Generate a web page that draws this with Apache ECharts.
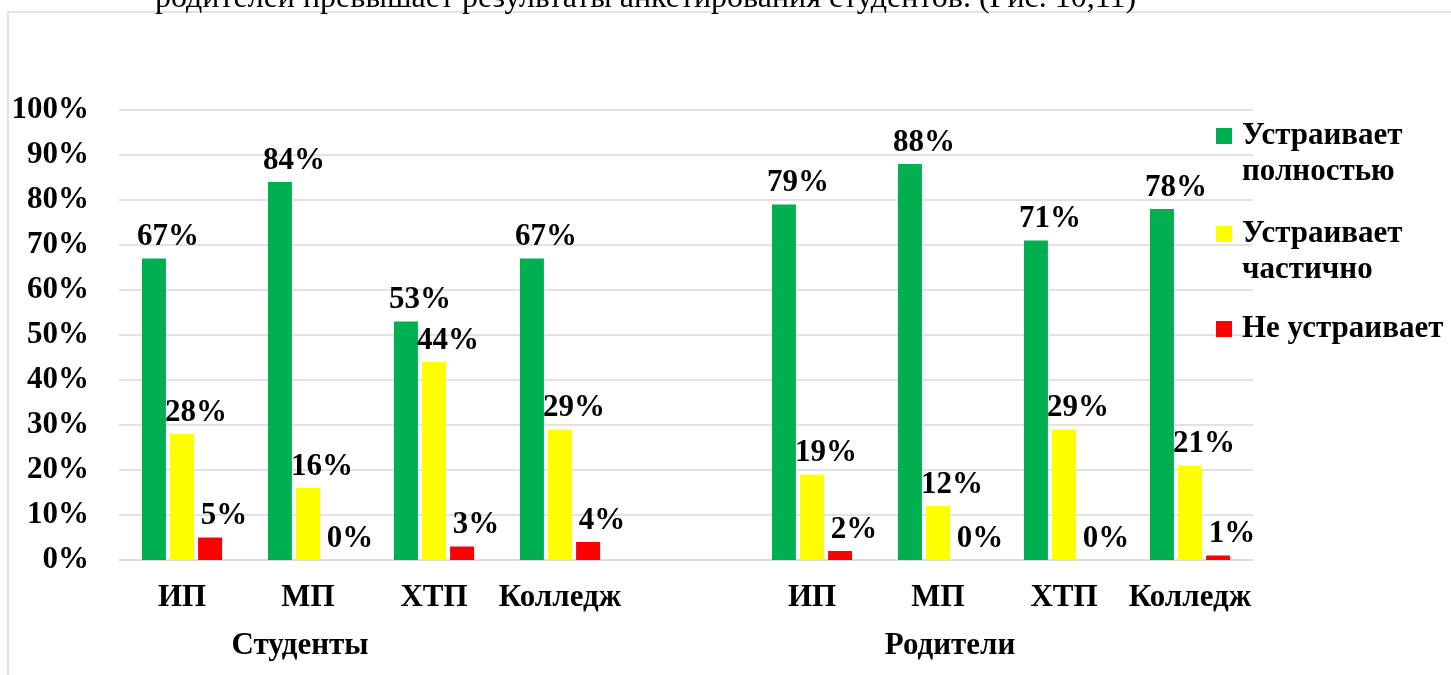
<!DOCTYPE html>
<html>
<head>
<meta charset="utf-8">
<script src="https://cdn.jsdelivr.net/npm/echarts@6/dist/echarts.min.js"></script>
<style>
  html, body { margin: 0; padding: 0; background: #fff; }
  #chart { width: 1451px; height: 675px; }
</style>
</head>
<body>
<div id="chart"></div>
<script>
// категории (пустой слот между группами)
const categories = ["ИП", "МП", "ХТП", "Колледж", "", "ИП", "МП", "ХТП", "Колледж"];
const groupLabels = ["", "Студенты", "", "", "", "", "Родители", "", ""];
const seriesNames = ["Устраивает\nполностью", "Устраивает\nчастично", "Не устраивает"];
const fullValues = [67, 84, 53, 67, null, 79, 88, 71, 78];
const partValues = [28, 16, 44, 29, null, 19, 12, 29, 21];
const noneValues = [5, 0, 3, 4, null, 2, 0, 0, 1];
const colors = ["#00b050", "#ffff00", "#ff0000"];

const font = '"Times New Roman", "Liberation Serif", serif';
const bold = { fontFamily: font, fontWeight: "bold", fontSize: 31, color: "#000" };

const chart = echarts.init(document.getElementById("chart"));

function barSeries(name, data, color) {
  return {
    name: name,
    type: "bar",
    data: data,
    barWidth: 24,
    barGap: "17%",
    itemStyle: { color: color },
    label: {
      show: true,
      position: "top",
      distance: 6,
      offset: [14, 0],
      formatter: "{c}%",
      ...bold,
    },
  };
}

// легенда: три отдельных блока, квадрат напротив первой строки
function legendAt(name, color, top, twoLines) {
  return {
    data: [{ name: name, itemStyle: { color: color } }],
    orient: "vertical",
    left: 1216,
    top: top,
    padding: 0,
    icon: "rect",
    itemWidth: 16,
    itemHeight: 16,
    selectedMode: false,
    // пустая первая строка — чтобы квадрат стоял против первой строки текста
    formatter: twoLines ? (n) => "\n" + n : (n) => n,
    textStyle: { ...bold, lineHeight: 36, padding: [0, 0, 0, 5] },
  };
}

chart.setOption({
  animation: false,
  grid: { left: 119, right: 198, top: 110, bottom: 115 },
  legend: [
    legendAt(seriesNames[0], colors[0], 82, true),
    legendAt(seriesNames[1], colors[1], 180, true),
    legendAt(seriesNames[2], colors[2], 311, false),
  ],
  xAxis: [
    {
      type: "category",
      data: categories,
      axisLine: { show: true, lineStyle: { color: "#d9d9d9", width: 1.5 } },
      axisTick: { show: false },
      axisLabel: { interval: 0, margin: 22, ...bold },
    },
    {
      type: "category",
      data: groupLabels.map((g, i) => ({
        value: g,
        textStyle: { padding: i === 1 ? [0, 16, 0, 0] : i === 6 ? [0, 0, 0, 24] : 0 },
      })),
      position: "bottom",
      axisLine: { show: false },
      axisTick: { show: false },
      axisLabel: { interval: 0, margin: 70, ...bold },
    },
  ],
  yAxis: {
    type: "value",
    min: 0,
    max: 100,
    interval: 10,
    axisLine: { show: false },
    axisTick: { show: false },
    splitLine: { lineStyle: { color: "#d9d9d9", width: 1.5 } },
    axisLabel: { formatter: "{value}%", margin: 30, ...bold },
  },
  series: [
    barSeries(seriesNames[0], fullValues, colors[0]),
    barSeries(seriesNames[1], partValues, colors[1]),
    barSeries(seriesNames[2], noneValues, colors[2]),
  ],
  graphic: [
    {
      type: "rect",
      shape: { x: 8, y: 12, width: 1500, height: 700 },
      style: { fill: "none", stroke: "#d9d9d9", lineWidth: 1.5 },
      silent: true,
      z: -10,
    },
    {
      type: "text",
      x: 155,
      y: 15,
      style: {
        text: "родителей превышает результаты анкетирования студентов. (Рис. 10,11)",
        fontFamily: font,
        fontSize: 32,
        fill: "#000",
        verticalAlign: "bottom",
      },
      silent: true,
    },
  ],
});
</script>
</body>
</html>
